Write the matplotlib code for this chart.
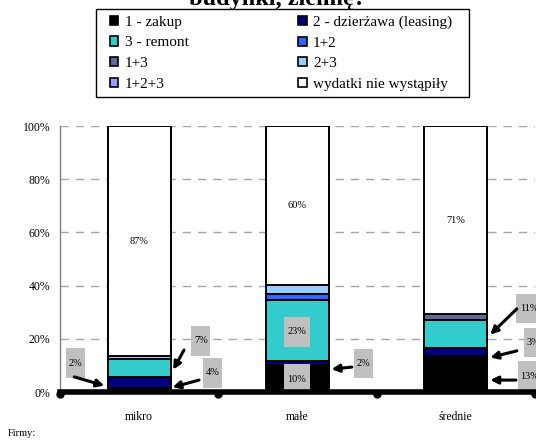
import matplotlib.pyplot as plt
from matplotlib.patches import Patch, Rectangle
import numpy as np

plt.rcParams['font.family'] = ['Liberation Serif', 'DejaVu Serif']

firms = ['mikro', 'małe', 'średnie']
series = ['1 - zakup', '2 - dzierżawa (leasing)', '3 - remont', '1+2',
          '1+3', '2+3', '1+2+3', 'wydatki nie wystąpiły']
colors = ['#000000', '#000080', '#33CCCC', '#3366FF',
          '#666699', '#99CCFF', '#9999FF', '#FFFFFF']

# shares (%) per firm size, in series order
zakup = [1.6, 10.0, 13.4]
leasing = [4.2, 1.5, 3.0]
remont = [6.8, 23.2, 10.8]
z12 = [0.0, 2.0, 0.0]
z13 = [0.0, 0.0, 2.0]
z23 = [1.0, 3.5, 0.0]
z123 = [0.0, 0.0, 0.0]
brak = [86.4, 59.8, 70.8]
values = [zakup, leasing, remont, z12, z13, z23, z123, brak]

# label texts shown on the chart
inner_labels = ['87%', '60%', '71%']
box_labels = ['2%', '7%', '4%', '23%', '10%', '2%', '11%', '3%', '13%']
# layout for the grey boxes: (x, y) centre, optional arrow tail and tip
box_pos = [(-0.405, 10.9), (0.39, 19.2), (0.466, 7.2), (0.997, 22.6), (0.997, 4.9),
           (1.414, 10.6), (2.462, 31.3), (2.488, 18.5), (2.469, 6.0)]
arrows = [((-0.41, 5.7), (-0.22, 2.4)), ((0.283, 15.8), (0.215, 8.4)),
          ((0.378, 4.5), (0.21, 1.8)), None, None,
          ((1.344, 9.4), (1.215, 8.6)), ((2.386, 31.3), (2.218, 21.6)),
          ((2.386, 15.5), (2.218, 13.0)), ((2.38, 4.5), (2.218, 4.5))]

fig = plt.figure(figsize=(5.36, 4.41), dpi=100)
ax = fig.add_axes([0.112, 0.111, 0.886, 0.603])

x = np.arange(len(firms))
w = 0.40
bottom = np.zeros(len(firms))
for vals, col, name in zip(values, colors, series):
    ax.bar(x, vals, w, bottom=bottom, color=col, edgecolor='black', lw=1.4,
           label=name, zorder=2)
    bottom += np.array(vals)

# percentage of "no expenses" inside the white part
for i, t in enumerate(inner_labels):
    ymid = 100 - brak[i] / 2
    ax.text(x[i], ymid, t, ha='center', va='center', fontsize=7.5, zorder=3)

for t, (bx, by), arr in zip(box_labels, box_pos, arrows):
    bw = 0.12 if len(t) == 2 else 0.158
    ax.add_patch(Rectangle((bx - bw / 2, by - 5.5), bw, 11, fc='#C0C0C0', ec='none',
                           zorder=4, clip_on=False))
    ax.text(bx, by, t, ha='center', va='center', fontsize=7.5, zorder=5, clip_on=False)
    if arr is not None:
        ax.annotate('', xy=arr[1], xytext=arr[0],
                    arrowprops=dict(arrowstyle='-|>', lw=2.2, color='black',
                                    mutation_scale=11, shrinkA=0, shrinkB=0),
                    zorder=5, annotation_clip=False)

ax.set_xlim(-0.5, 2.5)
ax.set_ylim(0, 100)
ax.set_yticks([0, 20, 40, 60, 80, 100])
ax.set_yticklabels([f'{v}%' for v in [0, 20, 40, 60, 80, 100]], fontsize=8.5)
ax.set_xticks(x)
ax.set_xticklabels(firms, fontsize=8.5)
ax.tick_params(axis='both', length=0)
ax.tick_params(axis='y', pad=7)
ax.tick_params(axis='x', pad=14)
ax.yaxis.grid(True, color='#A6A6A6', ls=(0, (6, 5)), lw=1)
ax.set_axisbelow(True)
for s in ['top', 'right']:
    ax.spines[s].set_visible(False)
ax.spines['left'].set_color('#808080')
ax.spines['left'].set_linewidth(1)
ax.spines['bottom'].set_linewidth(4)
ax.spines['bottom'].set_zorder(6)
ax.plot([-0.5, 0.5, 1.5, 2.5], [-0.8] * 4, 'o', color='black', ms=5,
        clip_on=False, zorder=7)

fig.text(0.015, 0.012, 'Firmy:', fontsize=7.5)
fig.text(0.518, 1 - 5 / 441, 'budynki, ziemię?', fontsize=17.5, fontweight='bold',
         ha='center', va='baseline')

# legend frame drawn separately so the inner padding can match
fig.add_artist(Rectangle((96 / 536, 1 - 97 / 441), 373 / 536, 88 / 441,
                         transform=fig.transFigure, fc='white', ec='black', lw=1))
handles = [Patch(fc=c, ec='black', lw=1.2) for c in colors]
order = [0, 2, 4, 6, 1, 3, 5, 7]
leg = fig.legend([handles[i] for i in order], [series[i] for i in order],
                 ncol=2, loc='upper left', bbox_to_anchor=(110 / 536, 1 - 15.5 / 441),
                 fontsize=11, frameon=False, handlelength=0.55, handleheight=0.55,
                 handletextpad=0.4, labelspacing=0.5, borderpad=0,
                 borderaxespad=0, columnspacing=7.2)

fig.savefig('out.png', dpi=100)
